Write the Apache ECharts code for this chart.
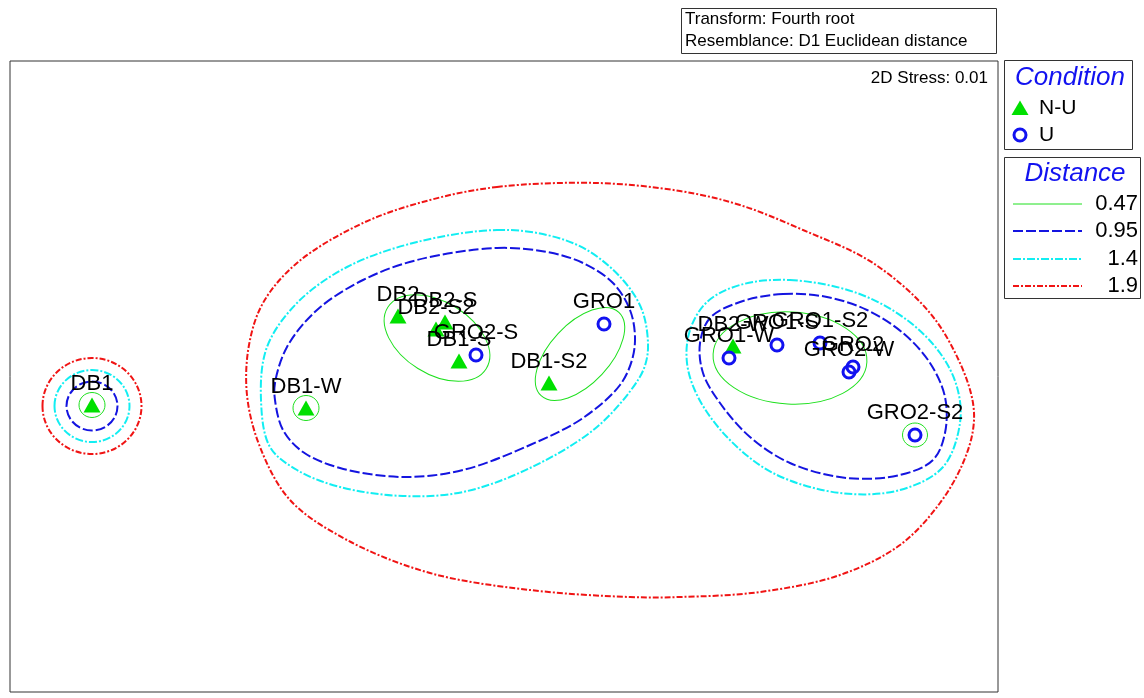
<!DOCTYPE html>
<html>
<head>
<meta charset="utf-8">
<script src="https://cdn.jsdelivr.net/npm/echarts@6/dist/echarts.min.js"></script>
<style>
  html, body { margin: 0; padding: 0; background: #fff; }
  #chart { width: 1144px; height: 698px; }
</style>
</head>
<body>
<div id="chart"></div>
<script>
// nMDS ordination of samples, with cluster contours at four distance levels

const sampleNames = ['DB1', 'DB1-W', 'DB2', 'DB2-S', 'DB2-S2', 'DB1-S', 'GRO2-S', 'GRO1', 'DB1-S2',
  'DB2-W', 'GRO1-W', 'GRO1-S', 'GRO1-S2', 'GRO2', 'GRO2-W', 'GRO2-S2'];
const condition = ['N-U', 'N-U', 'N-U', 'N-U', 'N-U', 'N-U', 'U', 'U', 'N-U',
  'N-U', 'U', 'U', 'U', 'U', 'U', 'U'];
const mds1 = [-4.12, -1.98, -1.06, -0.59, -0.68, -0.45, -0.28, 1.00, 0.45,
  2.29, 2.25, 2.73, 3.16, 3.49, 3.45, 4.11];
const mds2 = [-0.29, -0.32, 0.60, 0.54, 0.47, 0.15, 0.21, 0.52, -0.07,
  0.30, 0.18, 0.31, 0.33, 0.09, 0.04, -0.59];

const conditionLevels = ['N-U', 'U'];
const distanceLevels = ['0.47', '0.95', '1.4', '1.9'];

// Elliptical contours: [levelIndex, centre x, centre y, radius x, radius y, tilt in degrees]
const ellipseContours = [
  [0, -4.12, -0.29, 0.13, 0.125, 0],
  [0, -1.98, -0.32, 0.13, 0.125, 0],
  [0, 4.11, -0.59, 0.125, 0.12, 0],
  [0, -0.67, 0.38, 0.58, 0.36, -32],
  [0, 0.76, 0.22, 0.57, 0.30, 47],
  [0, 2.86, 0.18, 0.77, 0.46, -3],
  [1, -4.12, -0.30, 0.255, 0.245, 0],
  [2, -4.12, -0.30, 0.375, 0.36, 0],
  [3, -4.12, -0.30, 0.495, 0.48, 0]
];

// Free-form contour outlines (ordination units)
const outlineWest095 = [[-0.07, 1.28], [0.43, 1.24], [0.79, 1.13], [1.09, 0.93], [1.26, 0.66], [1.31, 0.39],
  [1.28, 0.16], [1.16, -0.09], [0.79, -0.42], [0.26, -0.69], [-0.41, -0.94], [-1.01, -1.01], [-1.64, -0.92],
  [-2.01, -0.76], [-2.21, -0.54], [-2.29, -0.24], [-2.29, -0.07], [-2.17, 0.29], [-1.87, 0.66], [-1.41, 0.96],
  [-0.87, 1.16]];
const outlineWest14 = [[-0.07, 1.46], [0.43, 1.41], [0.83, 1.26], [1.19, 0.96], [1.38, 0.66], [1.44, 0.33],
  [1.42, 0.14], [1.34, -0.04], [0.93, -0.51], [0.26, -0.92], [-0.41, -1.16], [-1.01, -1.20], [-1.64, -1.11],
  [-2.07, -0.94], [-2.34, -0.71], [-2.43, -0.24], [-2.37, 0.29], [-2.07, 0.73], [-1.57, 1.09], [-0.87, 1.34]];
const outlineEast095 = [[2.79, 0.82], [3.23, 0.79], [3.63, 0.66], [3.99, 0.43], [4.26, 0.13], [4.41, -0.21],
  [4.41, -0.57], [4.29, -0.84], [3.96, -0.99], [3.43, -1.02], [2.86, -0.87], [2.46, -0.61], [2.16, -0.27],
  [1.99, 0.03], [1.96, 0.33], [2.06, 0.58], [2.36, 0.74]];
const outlineEast14 = [[2.86, 0.96], [3.53, 0.83], [4.03, 0.56], [4.36, 0.23], [4.53, -0.11], [4.56, -0.47],
  [4.39, -0.91], [3.96, -1.14], [3.36, -1.17], [2.69, -0.97], [2.23, -0.61], [1.94, -0.21], [1.83, 0.13],
  [1.86, 0.46], [2.03, 0.74], [2.36, 0.91]];
const outlineAll19 = [[-0.07, 1.89], [0.93, 1.93], [1.76, 1.85], [2.36, 1.71], [2.99, 1.46], [3.69, 1.13],
  [4.26, 0.63], [4.56, 0.13], [4.69, -0.27], [4.69, -0.54], [4.59, -0.87], [4.36, -1.27], [3.96, -1.69],
  [3.36, -1.99], [2.56, -2.16], [1.76, -2.21], [1.26, -2.21], [0.26, -2.14], [-0.74, -1.97], [-1.57, -1.64],
  [-2.14, -1.24], [-2.44, -0.71], [-2.57, -0.19], [-2.55, 0.31], [-2.41, 0.73], [-2.07, 1.13], [-1.41, 1.53],
  [-0.74, 1.76]];
const outlineContours = [
  [1, outlineWest095], [2, outlineWest14], [1, outlineEast095], [2, outlineEast14], [3, outlineAll19]
];

// ---- styling ----
const FONT = "'Liberation Sans', Arial, Helvetica, sans-serif";
const GREEN = '#00e000';
const BLUE = '#1212f0';
const levelColor = ['#1ee01e', '#1414e0', '#12eef2', '#f01414'];
const levelWidth = [1, 2, 2, 2];
const levelDash = [null, [10, 3], [8, 2, 2, 2], [6, 2, 2, 2]];

// one shape list; custom series pick their shapes by index
const shapes = [];
ellipseContours.forEach(e => shapes.push({ kind: 'ellipse', level: e[0], cx: e[1], cy: e[2], rx: e[3], ry: e[4], rot: e[5] }));
outlineContours.forEach(o => shapes.push({ kind: 'outline', level: o[0], pts: o[1] }));

// closed centripetal Catmull-Rom spline through screen points, as SVG path data
function closedSplinePath(pts) {
  const n = pts.length;
  const f = v => v.toFixed(2);
  const dist = (a, b) => Math.pow(Math.hypot(b[0] - a[0], b[1] - a[1]), 0.5) || 1e-6;
  let d = 'M' + f(pts[0][0]) + ' ' + f(pts[0][1]);
  for (let i = 0; i < n; i++) {
    const p0 = pts[(i - 1 + n) % n], p1 = pts[i], p2 = pts[(i + 1) % n], p3 = pts[(i + 2) % n];
    const t01 = dist(p0, p1), t12 = dist(p1, p2), t23 = dist(p2, p3);
    const m1 = [0, 1].map(k => (p2[k] - p1[k]) + t12 * ((p1[k] - p0[k]) / t01 - (p2[k] - p0[k]) / (t01 + t12)));
    const m2 = [0, 1].map(k => (p2[k] - p1[k]) + t12 * ((p3[k] - p2[k]) / t23 - (p3[k] - p1[k]) / (t12 + t23)));
    const c1 = [p1[0] + m1[0] / 3, p1[1] + m1[1] / 3];
    const c2 = [p2[0] - m2[0] / 3, p2[1] - m2[1] / 3];
    d += 'C' + f(c1[0]) + ' ' + f(c1[1]) + ' ' + f(c2[0]) + ' ' + f(c2[1]) + ' ' + f(p2[0]) + ' ' + f(p2[1]);
  }
  return d + 'Z';
}

function renderContour(params, api) {
  const s = shapes[api.value(2)];
  const style = {
    fill: 'none',
    stroke: levelColor[s.level],
    lineWidth: levelWidth[s.level],
    lineDash: levelDash[s.level]
  };
  if (s.kind === 'ellipse') {
    const c = api.coord([s.cx, s.cy]);
    const r = api.size([s.rx, s.ry]);
    return {
      type: 'ellipse', x: c[0], y: c[1], rotation: s.rot * Math.PI / 180,
      shape: { cx: 0, cy: 0, rx: r[0], ry: r[1] }, style: style, silent: true
    };
  }
  const pix = s.pts.map(p => api.coord(p));
  return {
    type: 'path',
    shape: { pathData: closedSplinePath(pix) },
    style: style, silent: true
  };
}

const contourSeries = distanceLevels.map((lvl, li) => ({
  type: 'custom',
  name: lvl,
  coordinateSystem: 'cartesian2d',
  renderItem: renderContour,
  encode: { x: 0, y: 1 },
  clip: false,
  z: 2,
  silent: true,
  data: shapes.map((s, i) => [s.kind === 'ellipse' ? s.cx : s.pts[0][0], s.kind === 'ellipse' ? s.cy : s.pts[0][1], i])
    .filter(d => shapes[d[2]].level === li)
}));

function pointsFor(cond) {
  const out = [];
  sampleNames.forEach((n, i) => {
    if (condition[i] === cond) out.push({ name: n, value: [mds1[i], mds2[i]] });
  });
  return out;
}

function labelStyle(dist) {
  return {
    show: true, position: 'top', distance: dist, formatter: '{b}',
    color: '#000', fontFamily: FONT, fontSize: 22, textBorderWidth: 0, opacity: 1
  };
}

const scatterSeries = [
  {
    type: 'scatter', name: 'N-U', symbol: 'triangle', symbolSize: [17, 15], z: 4,
    itemStyle: { color: GREEN, opacity: 1 }, label: labelStyle(3), data: pointsFor('N-U')
  },
  {
    type: 'scatter', name: 'U', symbol: 'circle', symbolSize: 12, z: 4,
    itemStyle: { color: 'rgba(255,255,255,0)', borderColor: BLUE, borderWidth: 3, opacity: 1 },
    label: labelStyle(4), data: pointsFor('U')
  }
];

// ---- legend boxes and annotations ----
function txt(x, y, text, size, opts) {
  opts = opts || {};
  return {
    type: 'text', x: x, y: y, z: 10, silent: true,
    style: {
      text: text, fontFamily: FONT, fontSize: size, fontStyle: opts.italic ? 'italic' : 'normal',
      fill: opts.color || '#000',
      textAlign: opts.align || 'left', align: opts.align || 'left',
      textVerticalAlign: 'middle', verticalAlign: 'middle'
    }
  };
}
function box(x, y, w, h) {
  return { type: 'rect', z: 9, silent: true, shape: { x: x, y: y, width: w, height: h },
    style: { fill: '#fff', stroke: '#333', lineWidth: 1 } };
}

const legendRowsY = [204, 231, 259, 286];
const graphics = [
  box(681.5, 8.5, 315, 45),
  txt(685, 19, 'Transform: Fourth root', 17),
  txt(685, 41, 'Resemblance: D1 Euclidean distance', 17),
  txt(988, 78, '2D Stress: 0.01', 17, { align: 'right' }),

  box(1004.5, 60.5, 128, 89),
  txt(1070, 78, 'Condition', 26, { italic: true, color: BLUE, align: 'center' }),
  { type: 'polygon', z: 10, silent: true, shape: { points: [[1020, 100.5], [1011.5, 115], [1028.5, 115]] }, style: { fill: GREEN } },
  txt(1039, 108, conditionLevels[0], 21),
  { type: 'circle', z: 10, silent: true, shape: { cx: 1020, cy: 135, r: 6 }, style: { fill: '#fff', stroke: BLUE, lineWidth: 3 } },
  txt(1039, 135, conditionLevels[1], 21),

  box(1004.5, 157.5, 136, 141),
  txt(1075, 174, 'Distance', 26, { italic: true, color: BLUE, align: 'center' })
];
distanceLevels.forEach((lvl, i) => {
  graphics.push({
    type: 'line', z: 10, silent: true,
    shape: { x1: 1013, y1: legendRowsY[i], x2: 1082, y2: legendRowsY[i] },
    style: { stroke: levelColor[i], lineWidth: levelWidth[i], lineDash: levelDash[i] }
  });
  graphics.push(txt(1138, legendRowsY[i], lvl, 22, { align: 'right' }));
});

const chart = echarts.init(document.getElementById('chart'), null, { renderer: 'canvas' });
chart.setOption({
  animation: false,
  backgroundColor: '#fff',
  grid: { left: 10, right: 146, top: 61, bottom: 6, show: true, borderColor: '#333', borderWidth: 1, backgroundColor: '#fff' },
  xAxis: { type: 'value', min: -4.94, max: 4.94, show: false },
  yAxis: { type: 'value', min: -3.16, max: 3.15, show: false },
  series: contourSeries.concat(scatterSeries),
  graphic: graphics
});
</script>
</body>
</html>
